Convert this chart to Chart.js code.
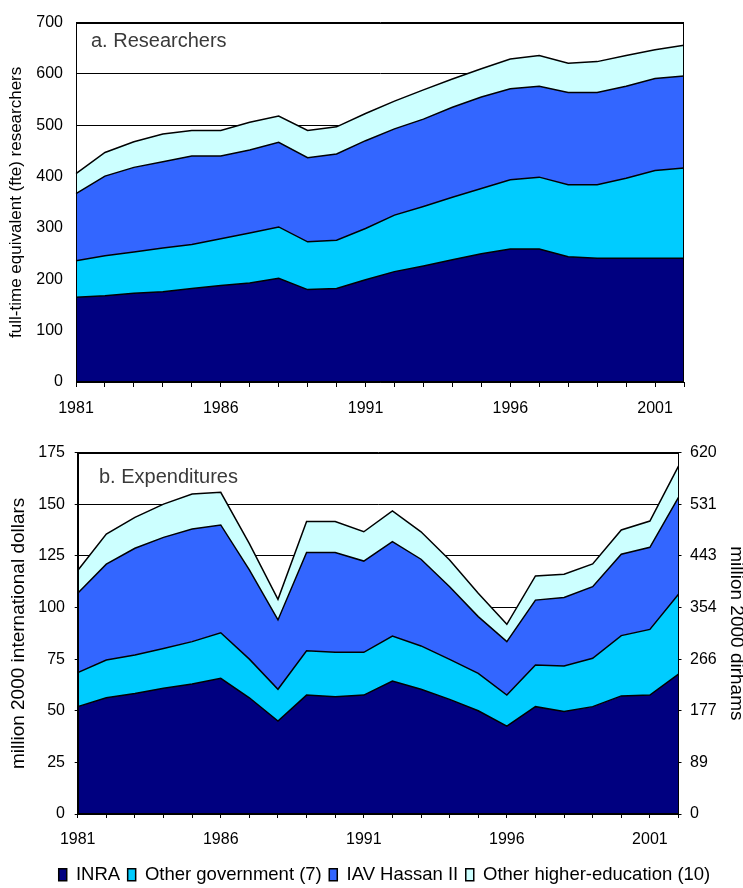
<!DOCTYPE html>
<html>
<head>
<meta charset="utf-8">
<title>Morocco agricultural R&amp;D: researchers and expenditures, 1981–2002</title>
<script src="https://cdn.jsdelivr.net/npm/chart.js@4.4.1/dist/chart.umd.min.js"></script>
<style>
  html, body { margin: 0; padding: 0; background: #fff; overflow: hidden; width: 743px; height: 888px; }
  canvas { position: absolute; left: 0; }
  #researchers { top: 0; }
  #expenditures { top: 420px; }
</style>
</head>
<body>
<canvas id="researchers" width="743" height="420"></canvas>
<canvas id="expenditures" width="743" height="480"></canvas>
<script>
// ---- Data -------------------------------------------------------------
const years = ['1981','1982','1983','1984','1985','1986','1987','1988','1989','1990','1991',
               '1992','1993','1994','1995','1996','1997','1998','1999','2000','2001','2002'];
const labelledYears = ['1981','1986','1991','1996','2001'];

// a. Full-time equivalent researchers, by agency
const resINRA     = [165,168,173,176,182,188,193,202,180,182,199,215,226,238,250,259,259,244,241,241,241,241];
const resOtherGov = [ 71, 78, 80, 85, 86, 91, 97,100, 93, 94,100,110,116,122,127,135,140,140,143,156,171,176];
const resIAV      = [131,155,165,168,172,161,162,165,164,168,171,168,170,175,178,177,177,180,180,179,179,179];
const resOtherHE  = [ 39, 46, 50, 54, 50, 50, 54, 51, 53, 53, 53, 54, 57, 55, 55, 58, 60, 57, 60, 60, 56, 60];

// b. Expenditures, million 2000 international dollars
const expINRA     = [52.0,56.3,58.4,60.9,63.0,65.7,56.3,45.0,57.6,56.8,57.6,64.4,60.4,55.5,50.0,42.6,52.0,49.6,52.0,57.2,57.6,67.8];
const expOtherGov = [16.5,18.3,18.6,19.3,20.5,22.1,18.7,15.4,21.5,21.5,20.7,21.8,21.0,19.4,18.1,15.0,20.2,22.1,23.4,29.2,31.8,38.6];
const expIAV      = [38.4,46.4,51.7,53.8,54.5,52.2,43.2,33.6,47.6,48.4,44.2,45.7,42.0,35.2,27.5,25.9,31.4,33.2,34.7,39.4,39.8,47.0];
const expOtherHE  = [11.0,14.6,15.0,16.1,17.0,15.8,12.8,10.0,15.0,15.0,14.2,14.9,13.3,12.9,11.3, 8.4,11.7,11.2,11.0,11.8,12.7,15.1];

// Right-hand axis: the same gridlines expressed in million 2000 dirhams
const dirhamTickLabels = ['0','89','177','266','354','443','531','620'];

const seriesNames = ['INRA', 'Other government (7)', 'IAV Hassan II', 'Other higher-education (10)'];

// ---- Styling ----------------------------------------------------------
const FONT = "'Liberation Sans', Arial, Helvetica, sans-serif";
Chart.defaults.font.family = FONT;
Chart.defaults.color = '#000';

const fills = ['#000080', '#00CCFF', '#3366FF', '#CCFFFF'];

function stackedAreas(seriesList) {
  return seriesList.map((values, i) => ({
    label: seriesNames[i],
    data: values,
    backgroundColor: fills[i],
    borderColor: '#000',
    borderWidth: 1.5,
    fill: i === 0 ? 'origin' : '-1',
    pointRadius: 0,
    pointHoverRadius: 0,
    tension: 0
  }));
}

const yearTick = (value, index) => (labelledYears.includes(years[index]) ? years[index] : '');

// Box round the plotting area
const frame = {
  id: 'frame',
  afterDatasetsDraw(chart) {
    const { ctx, chartArea: a } = chart;
    const l = Math.round(a.left) + 0.5, t = Math.round(a.top) + 0.5;
    const r = Math.round(a.right) - 0.5, b = Math.round(a.bottom) - 0.5;
    ctx.save();
    ctx.strokeStyle = '#000';
    ctx.lineWidth = 1;
    ctx.strokeRect(l, t, r - l, b - t);
    ctx.restore();
  }
};

// Panel caption written inside the plotting area
const panelTitle = {
  id: 'panelTitle',
  afterDraw(chart, args, opts) {
    const ctx = chart.ctx;
    ctx.save();
    ctx.font = `${opts.size}px ${FONT}`;
    ctx.fillStyle = opts.color;
    ctx.textAlign = 'left';
    ctx.textBaseline = 'middle';
    ctx.fillText(opts.text, opts.x, opts.y);
    ctx.restore();
  }
};

// Nudges the legend row sideways after layout
const legendShift = {
  id: 'legendShift',
  afterLayout(chart, args, opts) {
    const lg = chart.legend;
    if (!lg) return;
    lg.left += opts.dx;
    lg.right += opts.dx;
  }
};

// ---- a. Researchers ---------------------------------------------------
new Chart(document.getElementById('researchers'), {
  type: 'line',
  data: { labels: years, datasets: stackedAreas([resINRA, resOtherGov, resIAV, resOtherHE]) },
  options: {
    responsive: false,
    animation: false,
    events: [],
    layout: { padding: { top: 12.7, right: 59, bottom: 0, left: 0 } },
    plugins: {
      legend: { display: false },
      tooltip: { enabled: false },
      panelTitle: { text: 'a. Researchers', x: 91, y: 41, size: 20, color: '#3a3a3a' }
    },
    scales: {
      x: {
        grid: { drawOnChartArea: false, color: '#000', tickLength: 5 },
        border: { color: '#000' },
        ticks: { autoSkip: false, maxRotation: 0, padding: 12, font: { size: 16 }, callback: yearTick },
        afterFit: s => { s.height = 38; }
      },
      y: {
        stacked: true,
        min: 0,
        max: 700,
        ticks: { stepSize: 100, padding: 13, font: { size: 16 } },
        grid: { color: '#000', drawTicks: false },
        border: { color: '#000' },
        title: {
          display: true,
          text: 'full-time equivalent (fte) researchers',
          font: { size: 17 },
          padding: { top: 6, bottom: 0 }
        },
        afterFit: s => { s.width = 76; }
      }
    }
  },
  plugins: [frame, panelTitle]
});

// ---- b. Expenditures --------------------------------------------------
new Chart(document.getElementById('expenditures'), {
  type: 'line',
  data: { labels: years, datasets: stackedAreas([expINRA, expOtherGov, expIAV, expOtherHE]) },
  options: {
    responsive: false,
    animation: false,
    events: [],
    layout: { padding: { top: 32.7, right: 0, bottom: 6, left: 0 } },
    plugins: {
      legend: {
        display: true,
        position: 'bottom',
        labels: { boxWidth: 8, boxHeight: 12, padding: 7.5, font: { size: 18.5 }, color: '#000' }
      },
      tooltip: { enabled: false },
      legendShift: { dx: 13 },
      panelTitle: { text: 'b. Expenditures', x: 99, y: 57, size: 20, color: '#3a3a3a' }
    },
    scales: {
      x: {
        grid: { drawOnChartArea: false, color: '#000', tickLength: 4 },
        border: { color: '#000' },
        ticks: { autoSkip: false, maxRotation: 0, padding: 12, font: { size: 16 }, callback: yearTick },
        afterFit: s => { s.height = 44; }
      },
      y: {
        stacked: true,
        min: 0,
        max: 175,
        ticks: { stepSize: 25, padding: 9.7, font: { size: 16 } },
        grid: { color: '#000', tickLength: 3 },
        border: { color: '#000' },
        title: {
          display: true,
          text: 'million 2000 international dollars',
          font: { size: 19 },
          padding: { top: 7.4, bottom: 0 }
        },
        afterFit: s => { s.width = 77.7; }
      },
      dirhams: {
        position: 'right',
        min: 0,
        max: 175,
        ticks: { stepSize: 25, padding: 8.5, font: { size: 16 }, callback: (v, i) => dirhamTickLabels[i] },
        grid: { drawOnChartArea: false, color: '#000', tickLength: 3 },
        border: { color: '#000' },
        title: {
          display: true,
          text: 'million 2000 dirhams',
          font: { size: 19, lineHeight: 0.7 },
          padding: { top: 0, bottom: 0 }
        },
        afterFit: s => { s.width = 64.5; }
      }
    }
  },
  plugins: [frame, panelTitle, legendShift]
});
</script>
</body>
</html>
